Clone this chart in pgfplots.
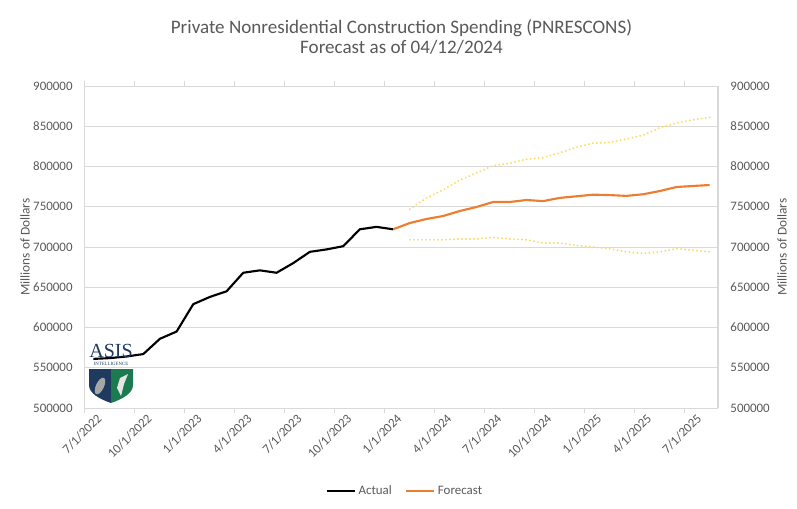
\documentclass[border=0pt]{standalone}
\usepackage{fontspec}
\setmainfont{Carlito}
\newfontfamily\logofont{Liberation Serif}
\usepackage{pgfplots}
\usepackage{pgfplotstable}
\pgfplotsset{compat=1.18}

\definecolor{txtgray}{HTML}{595959}
\definecolor{gridgray}{HTML}{D9D9D9}
\definecolor{fcorange}{HTML}{ED7D31}
\definecolor{bandyellow}{HTML}{FFD966}
\definecolor{logonavy}{HTML}{1F3A5F}
\definecolor{logogreen}{HTML}{1B7A50}

% month index: 0 = 7/1/2022
\pgfplotstableread{
m val
0 561000
1 562000
2 564000
3 567000
4 586000
5 595000
6 629000
7 638000
8 645000
9 668000
10 671000
11 668000
12 680000
13 694000
14 697000
15 701000
16 722000
17 725000
18 722000
}\actualdata

\pgfplotstableread{
m val
18 722000
19 729800
20 734800
21 738500
22 744700
23 749700
24 755900
25 755900
26 758400
27 757000
28 761000
29 763000
30 765000
31 764500
32 763500
33 765500
34 769500
35 774500
36 775800
37 777000
}\forecastdata

\pgfplotstableread{
m val
19 747000
20 761000
21 771000
22 783000
23 792000
24 801000
25 804000
26 809000
27 811000
28 817000
29 824000
30 829000
31 830000
32 834000
33 839000
34 848000
35 854000
36 858000
37 861000
}\upband

\pgfplotstableread{
m val
19 709000
20 709000
21 709000
22 710000
23 710000
24 712000
25 710000
26 709000
27 705000
28 705000
29 702000
30 700000
31 698000
32 694000
33 692000
34 694000
35 698000
36 696000
37 694000
}\lowband

\pgfplotsset{
  chartaxis/.style={
    scale only axis,
    width=474.75pt, height=241.5pt,
    at={(63.75pt,75pt)}, anchor=south west,
    xmin=-0.5, xmax=37.5,
    ymin=500000, ymax=900000,
    ytick={500000,550000,...,900000},
    scaled y ticks=false,
    yticklabel style={/pgf/number format/fixed, /pgf/number format/precision=0, /pgf/number format/1000 sep={}, /pgf/number format/assume math mode=true},
    ticklabel style={font=\fontsize{9.7}{11}\selectfont, text=txtgray},
    major tick length=0pt,
    axis line style={gridgray, line width=0.75pt},
    ylabel={Millions of Dollars},
    ylabel style={font=\fontsize{10}{12}\selectfont, text=txtgray, anchor=center},
  },
  bandline/.style={bandyellow, line width=1.6pt, line cap=round, dash pattern=on 0.01pt off 3pt},
}

\begin{document}
\begin{tikzpicture}
\useasboundingbox (0,0) rectangle (597.75pt,381pt);

\begin{axis}[
  chartaxis,
  ymajorgrids,
  grid style={gridgray, line width=0.75pt},
  xtick={0,3,...,36},
  xticklabels={7/1/2022,10/1/2022,1/1/2023,4/1/2023,7/1/2023,10/1/2023,1/1/2024,4/1/2024,7/1/2024,10/1/2024,1/1/2025,4/1/2025,7/1/2025},
  xticklabel style={rotate=45, anchor=north east, inner sep=1pt, yshift=-3pt},
  extra x ticks={-0.5,2.5,...,35.5},
  extra x tick style={xticklabel={}, major tick length=4pt, tick align=outside, tick style={gridgray, line width=0.75pt}, grid=none},
  yticklabel style={xshift=-5.8pt},
  ylabel style={at={(axis description cs:-0.0948,0.5)}},
  title={Private Nonresidential Construction Spending (PNRESCONS)\\Forecast as of 04/12/2024},
  title style={align=center, font=\fontsize{14.3}{15.5}\selectfont, text=txtgray, at={(axis description cs:0.5,1)}, anchor=south, yshift=14pt},
  legend style={at={(axis description cs:0.506,-0.258)}, anchor=center, draw=none, fill=none,
    legend columns=2, font=\fontsize{9.7}{11}\selectfont, text=txtgray,
    /tikz/every even column/.append style={column sep=8pt}},
  legend image code/.code={\draw[#1] (0pt,0pt) -- (21pt,0pt);},
]
\addplot[bandline, forget plot] table[x=m, y=val] {\upband};
\addplot[bandline, forget plot] table[x=m, y=val] {\lowband};
\addplot[black, line width=1.6pt, line join=round] table[x=m, y=val] {\actualdata};
\addlegendentry{Actual}
\addplot[fcorange, line width=1.6pt, line join=round] table[x=m, y=val] {\forecastdata};
\addlegendentry{Forecast}
\end{axis}

\begin{axis}[
  chartaxis,
  axis x line=none,
  axis y line*=right,
  yticklabel pos=right,
  yticklabel style={xshift=5.8pt},
  ylabel style={at={(axis description cs:1.101,0.5)}},
]
\end{axis}

% ASIS Intelligence logo (pixel coordinates, origin top left)
\begin{scope}[x=0.75pt, y=-0.75pt, shift={(0,381pt)}]
  \node[font=\logofont\fontsize{15}{15}\selectfont, text=logonavy, inner sep=0pt] at (111,351) {ASIS};
  \node[font=\logofont\fontsize{3.6}{4}\selectfont, text=logonavy, inner sep=0pt] at (111,364) {INTELLIGENCE};
  \fill[logonavy] (89,369) -- (111,369) -- (111,403) .. controls (99,399) and (89,393) .. (89,385) -- cycle;
  \fill[logogreen] (133,369) -- (111,369) -- (111,403) .. controls (123,399) and (133,393) .. (133,385) -- cycle;
  \fill[gray!70] (100,386) ellipse [x radius=4, y radius=9, rotate=-25];
  \fill[white!80!gray] (120,378) -- (128,374) -- (124,384) -- (121,396) -- (117,388) -- cycle;
\end{scope}
\end{tikzpicture}
\end{document}
